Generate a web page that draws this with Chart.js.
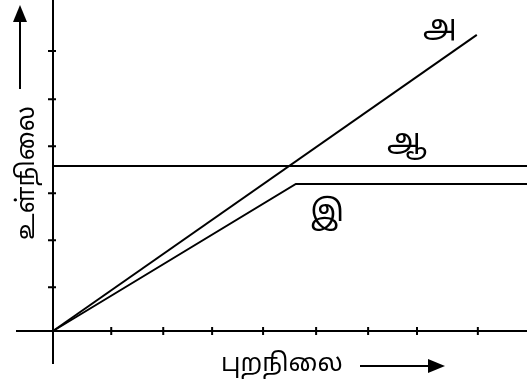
<!DOCTYPE html>
<html>
<head>
<meta charset="utf-8">
<script src="https://cdn.jsdelivr.net/npm/chart.js@4"></script>
<style>
  html, body { margin: 0; padding: 0; background: #fff; }
  #wrap { width: 527px; height: 392px; }
</style>
</head>
<body>
<div id="wrap"><canvas id="stateChart" width="527" height="392"></canvas></div>
<script>
// series names (Tamil letters used as line labels)
const seriesNames = ['அ', 'ஆ', 'இ'];

// அ : straight line from origin
const lineA_x = [0, 8.15];
const lineA_y = [0, 6.30];
// ஆ : constant level
const lineB_x = [0, 9.2];
const lineB_y = [3.51, 3.51];
// இ : rises, then flat
const lineC_x = [0, 4.67, 9.2];
const lineC_y = [0, 3.13, 3.13];

// tick positions (no tick labels in the picture)
const xTicks = [1.12, 2.12, 3.06, 4.04, 5.06, 6.06, 7.0, 8.17];
const yTicks = [0.93, 1.93, 2.93, 3.93, 4.93, 5.96];

const xTitle = 'புறநிலை';
const yTitle = 'உள்நிலை';

const tamilFont = '"Noto Sans Tamil", "Lohit Tamil", "Noto Sans", sans-serif';

function pts(xs, ys) {
    return xs.map((x, i) => ({ x: x, y: ys[i] }));
}

function mkSet(name, xs, ys) {
    return {
        label: name,
        data: pts(xs, ys),
        showLine: true,
        borderColor: '#000',
        borderWidth: 2,
        pointRadius: 0,
        fill: false,
        tension: 0
    };
}

// axes, ticks, line labels and titles
const axesPlugin = {
    id: 'axesPlugin',
    afterDatasetsDraw(chart) {
        const c = chart.ctx;
        const xs = chart.scales.x, ys = chart.scales.y;
        const ox = xs.getPixelForValue(0), oy = ys.getPixelForValue(0);
        c.save();
        c.strokeStyle = '#000';
        c.fillStyle = '#000';
        c.lineWidth = 2;
        c.beginPath();
        c.moveTo(ox, 0); c.lineTo(ox, oy + 33);
        c.moveTo(ox - 37, oy); c.lineTo(chart.width, oy);
        xTicks.forEach(t => {
            const px = xs.getPixelForValue(t);
            c.moveTo(px, oy - 4); c.lineTo(px, oy + 4);
        });
        yTicks.forEach(t => {
            const py = ys.getPixelForValue(t);
            c.moveTo(ox - 5, py); c.lineTo(ox + 3, py);
        });
        c.stroke();

        // line labels
        c.font = '30px ' + tamilFont;
        c.textAlign = 'center';
        c.textBaseline = 'middle';
        c.fillText(seriesNames[0], xs.getPixelForValue(lineA_x[1]) - 37, ys.getPixelForValue(lineA_y[1]) - 5);
        c.fillText(seriesNames[1], xs.getPixelForValue(6.8), ys.getPixelForValue(lineB_y[0]) - 22);
        c.fillText(seriesNames[2], xs.getPixelForValue(5.27), ys.getPixelForValue(lineC_y[1]) + 31);

        // x title + arrow
        c.font = '25px ' + tamilFont;
        c.textAlign = 'center';
        c.fillText(xTitle, 282, 366);
        c.beginPath();
        c.moveTo(360, 366); c.lineTo(432, 366);
        c.stroke();
        c.beginPath();
        c.moveTo(445, 366); c.lineTo(428, 359); c.lineTo(428, 373); c.closePath();
        c.fill();

        // y title + arrow
        c.save();
        c.translate(29, 173);
        c.rotate(-Math.PI / 2);
        c.fillText(yTitle, 0, 0);
        c.restore();
        c.beginPath();
        c.moveTo(20, 89); c.lineTo(20, 18);
        c.stroke();
        c.beginPath();
        c.moveTo(20, 5); c.lineTo(13, 22); c.lineTo(27, 22); c.closePath();
        c.fill();
        c.restore();
    }
};

const ctx = document.getElementById('stateChart').getContext('2d');

new Chart(ctx, {
    type: 'scatter',
    data: {
        datasets: [
            mkSet(seriesNames[0], lineA_x, lineA_y),
            mkSet(seriesNames[1], lineB_x, lineB_y),
            mkSet(seriesNames[2], lineC_x, lineC_y)
        ]
    },
    options: {
        responsive: false,
        animation: false,
        layout: { padding: 0 },
        plugins: { legend: { display: false }, tooltip: { enabled: false } },
        scales: {
            x: { type: 'linear', display: false, min: -53 / 52, max: 474 / 52 },
            y: { type: 'linear', display: false, min: -61 / 47, max: 331 / 47 }
        }
    },
    plugins: [axesPlugin]
});
</script>
</body>
</html>
